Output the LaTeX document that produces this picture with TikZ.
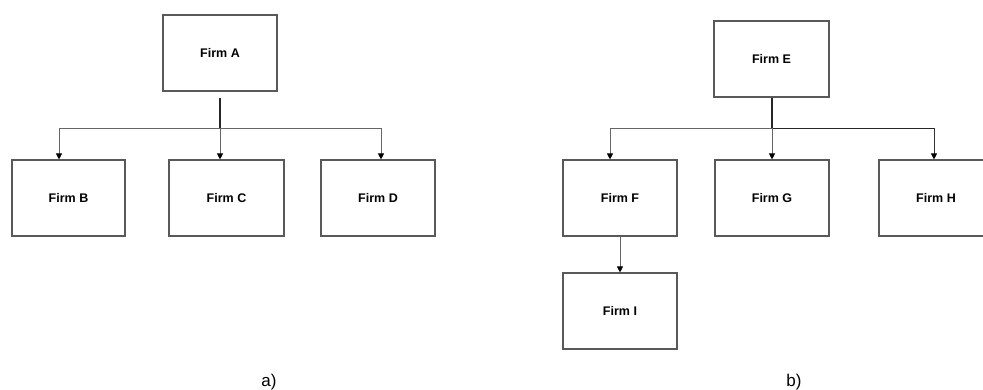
\documentclass[tikz,border=0pt]{standalone}
\usepackage{fontspec}
\setmainfont{Liberation Sans}
\usetikzlibrary{arrows.meta}
\begin{document}
\begin{tikzpicture}[x=1pt,y=-1pt,
  firm/.style={draw=black!65,line width=1.1pt,minimum width=114pt,minimum height=76pt,inner sep=0pt,font=\bfseries\fontsize{12.5}{14}\selectfont},
  stub/.style={draw=black!85,line width=1.6pt},
  conn/.style={draw=black!60,line width=0.9pt},
  arr/.style={conn,-{Triangle[length=6pt,width=6pt]},arrows={[color=black]}},
  lab/.style={font=\fontsize{17}{19}\selectfont,anchor=base}]
\useasboundingbox (0,0) rectangle (983,390);
\begin{scope}
\clip (0,0) rectangle (983,390);
% left tree
\node[firm] (A) at (220,53) {Firm A};
\node[firm,minimum width=113pt] (B) at (68.5,198) {Firm B};
\node[firm,minimum width=115pt] (C) at (226.5,198) {Firm C};
\node[firm] (D) at (378,198) {Firm D};
\coordinate (jA) at (220,128);
\coordinate (bB) at (59,128);
\coordinate (bD) at (381,128);
\draw[conn] (bB) -- (bD);
\draw[stub,shorten <=6pt] (A.south) -- (jA);
\draw[arr] (bB) -- (bB |- B.north);
\draw[arr] (jA) -- (jA |- C.north);
\draw[arr] (bD) -- (bD |- D.north);
% right tree
\node[firm,minimum width=115pt] (E) at (771.5,59) {Firm E};
\node[firm] (F) at (620,198) {Firm F};
\node[firm] (G) at (772,198) {Firm G};
\node[firm] (H) at (936,198) {Firm H};
\node[firm] (I) at (620,311) {Firm I};
\coordinate (jE) at (772,128);
\coordinate (bF) at (610,128);
\coordinate (bH) at (934,128);
\draw[conn] (bF) -- (jE);
\draw[conn,draw=black!85] (jE) -- (bH);
\draw[stub] (E.south -| jE) -- (jE);
\draw[arr] (bF) -- (bF |- F.north);
\draw[arr] (jE) -- (jE |- G.north);
\draw[arr,draw=black!80] (bH) -- (bH |- H.north);
\draw[arr] (F.south) -- (I.north);
\end{scope}
\node[lab] (la) at (269,386) {a)};
\node[lab] (lb) at (794,386) {b)};
\end{tikzpicture}
\end{document}
